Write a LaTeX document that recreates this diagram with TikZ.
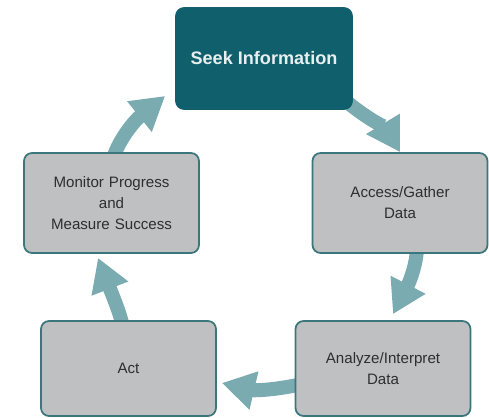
\documentclass[tikz,border=0pt]{standalone}
\usepackage{fontspec}
\setmainfont{Liberation Sans}
\usetikzlibrary{arrows.meta,backgrounds}

\definecolor{seekteal}{HTML}{0F5F6C}
\definecolor{edgeteal}{HTML}{3C767D}
\definecolor{arrowteal}{HTML}{7AABB0}
\definecolor{boxgray}{HTML}{BFC0C2}
\definecolor{textgray}{HTML}{2E2E2E}

\tikzstyle{block} = [draw=edgeteal, line width=1pt, rectangle, rounded corners=0.16cm, text centered, minimum width=3.5cm, minimum height=2cm]
\tikzstyle{seek-block} = [block, fill=seekteal, draw=seekteal, text=white!90!seekteal, font=\fontsize{10.3}{13}\selectfont\bfseries]
\tikzstyle{step-block} = [block, fill=boxgray, text=textgray, text width=3.2cm, font=\fontsize{8.6}{12}\selectfont]
\tikzstyle{low-block} = [step-block, minimum height=1.9cm]
\tikzstyle{cycle-arrow} = [draw=arrowteal, line width=0.28cm, -{Triangle[width=0.74cm, length=0.66cm]}]

\begin{document}
\begin{tikzpicture}[x=0.02cm, y=0.02cm]
	
	\useasboundingbox (0,0) rectangle (489,418);
	
	\node [seek-block, minimum width=3.52cm, minimum height=2.02cm] (seek) at (264,359.5) {Seek Information};
	\node [step-block] (acc) at (400,215) {Access/Gather\\Data};
	\node [low-block] (ana) at (383,49.5) {Analyze/Interpret\\Data};
	\node [low-block] (act) at (128.5,49.5) {Act};
	\node [step-block] (mon) at (111.5,215) {Monitor Progress\\and\\Measure Success};
	
	\begin{scope}[on background layer]
		\draw [cycle-arrow] ([shift={(-7,9)}]seek.south east) .. controls (362,303) and (386,289) .. (acc.north);
		\draw [cycle-arrow] ([shift={(17,5)}]acc.south) .. controls (416,150) and (408,133) .. ([shift={(10,6)}]ana.north);
		\draw [cycle-arrow] ([shift={(5,-16)}]ana.west) .. controls (280,29) and (256,27) .. ([shift={(5,-14.5)}]act.east);
		\draw [cycle-arrow] ([shift={(-6,-5)}]act.north) .. controls (120,105) and (112,124) .. ([shift={(-13.5,-4)}]mon.south);
		\draw [cycle-arrow] ([shift={(2,-5)}]mon.north) .. controls (119,278) and (134,297) .. ([shift={(-10,-37.5)}]seek.west);
	\end{scope}
	
\end{tikzpicture}
\end{document}
